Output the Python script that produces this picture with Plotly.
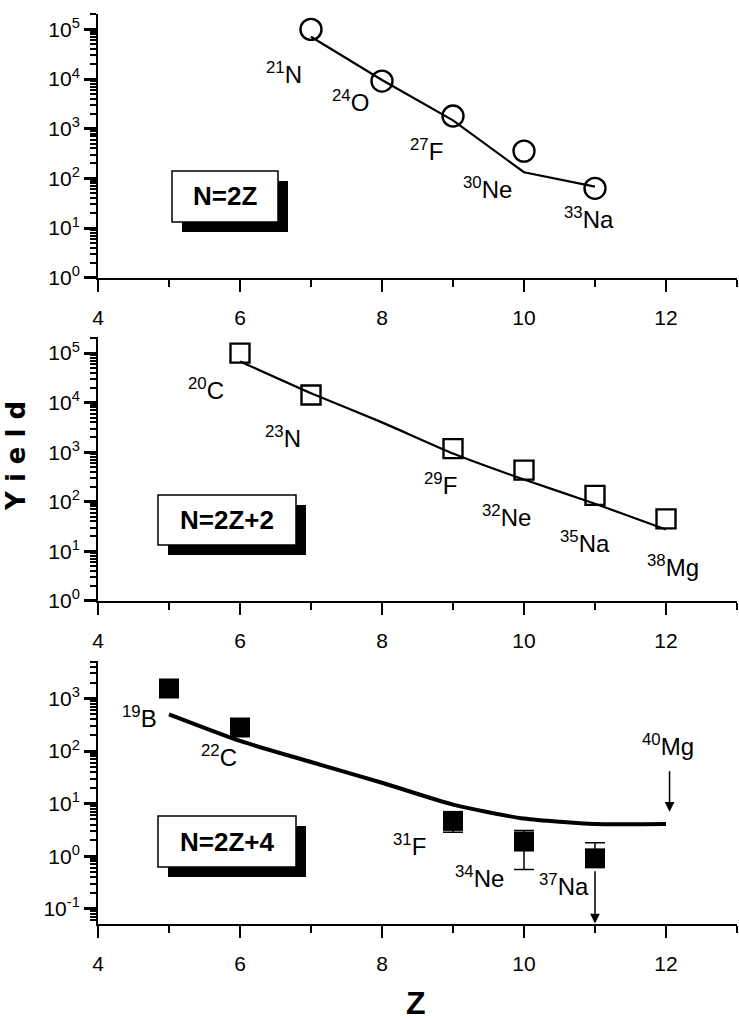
import plotly.graph_objects as go
import math

# ---------------- data ----------------
z_top = [7, 8, 9, 10, 11]
yield_top = [1.0e5, 9.1e3, 1.8e3, 354, 63]
z_top_line = [7, 8, 9, 10, 11]
calc_top = [7.1e4, 9.6e3, 1.47e3, 133, 68]
labels_top = ["<sup>21</sup>N", "<sup>24</sup>O", "<sup>27</sup>F", "<sup>30</sup>Ne", "<sup>33</sup>Na"]
label_top_z = [6.62, 7.55, 8.63, 9.48, 10.92]
label_top_y = [1.35e4, 3.6e3, 380, 65, 16]

z_mid = [6, 7, 9, 10, 11, 12]
yield_mid = [1.0e5, 1.43e4, 1.18e3, 434, 134, 45]
z_mid_line = [6, 7, 8, 9, 10, 11, 12]
calc_mid = [6.8e4, 1.55e4, 4.0e3, 940, 280, 91, 27.5]
labels_mid = ["<sup>20</sup>C", "<sup>23</sup>N", "<sup>29</sup>F", "<sup>32</sup>Ne", "<sup>35</sup>Na", "<sup>38</sup>Mg"]
label_mid_z = [5.52, 6.60, 8.82, 9.75, 10.86, 12.10]
label_mid_y = [1.9e4, 2.05e3, 224, 51, 15, 5.0]

z_bot = [5, 6, 9, 10, 11]
yield_bot = [1550, 280, 4.7, 1.9, 0.91]
err_plus_bot = [None, None, 1.6, 1.2, 0.89]
err_minus_bot = [None, None, 1.85, 1.34, 0.0]
z_bot_line = [5, 6, 7, 8, 9, 10, 11, 12]
calc_bot = [500, 156, 62, 25, 9.6, 5.2, 4.1, 4.1]
labels_bot = ["<sup>19</sup>B", "<sup>22</sup>C", "<sup>31</sup>F", "<sup>34</sup>Ne", "<sup>37</sup>Na", "<sup>40</sup>Mg"]
label_bot_z = [4.58, 5.70, 8.39, 9.37, 10.57, 12.03]
label_bot_y = [437, 81, 1.62, 0.41, 0.28, 129]
limit_z = 11
limit_from = 0.55
mg40_z = 12.05
mg40_from = 44
mg40_to = 7.0

box_texts = ["N=2Z", "N=2Z+2", "N=2Z+4"]
x_ticks = [4, 6, 8, 10, 12]

# ---------------- layout geometry ----------------
W, H = 739, 1020
L, R, T, B = 98, 2, 14, 96
PW, PH = W - L - R, H - T - B


def px_x(px):
    return (px - L) / PW


def px_y(py):
    return (H - B - py) / PH


def clamp(v):
    return min(1.0, max(0.0, v))


doms = [
    [clamp(px_y(277.7)), clamp(px_y(14))],
    [clamp(px_y(600.7)), clamp(px_y(337.3))],
    [clamp(px_y(924.3)), clamp(px_y(660.7))],
]
yranges = [[0, 5.31], [0, 5.32], [-1.29, 3.72]]
yticks = [[0, 1, 2, 3, 4, 5], [0, 1, 2, 3, 4, 5], [-1, 0, 1, 2, 3]]

TICKFONT = dict(family="Liberation Sans, Arial, sans-serif", size=21, color="black")
LABFONT = dict(family="Liberation Sans, Arial, sans-serif", size=24, color="black")

fig = go.Figure()

# top
fig.add_trace(go.Scatter(x=z_top_line, y=calc_top, mode="lines",
                         line=dict(color="black", width=2.2), xaxis="x", yaxis="y",
                         showlegend=False, hoverinfo="skip"))
fig.add_trace(go.Scatter(x=z_top, y=yield_top, mode="markers",
                         marker=dict(symbol="circle-open", size=21, color="black",
                                     line=dict(width=2.4, color="black")),
                         xaxis="x", yaxis="y", showlegend=False))
# middle
fig.add_trace(go.Scatter(x=z_mid_line, y=calc_mid, mode="lines",
                         line=dict(color="black", width=2.2, shape="spline", smoothing=0.5),
                         xaxis="x2", yaxis="y2", showlegend=False, hoverinfo="skip"))
fig.add_trace(go.Scatter(x=z_mid, y=yield_mid, mode="markers",
                         marker=dict(symbol="square-open", size=19, color="black",
                                     line=dict(width=2.4, color="black")),
                         xaxis="x2", yaxis="y2", showlegend=False))
# bottom
fig.add_trace(go.Scatter(x=z_bot_line, y=calc_bot, mode="lines",
                         line=dict(color="black", width=4, shape="spline", smoothing=0.6),
                         xaxis="x3", yaxis="y3", showlegend=False, hoverinfo="skip"))
fig.add_trace(go.Scatter(x=z_bot, y=yield_bot, mode="markers",
                         marker=dict(symbol="square", size=20, color="black"),
                         error_y=dict(type="data", symmetric=False, array=err_plus_bot,
                                      arrayminus=err_minus_bot, color="black",
                                      thickness=1.5, width=10),
                         xaxis="x3", yaxis="y3", showlegend=False))

annotations = []
shapes = []

for i, (xa, ya) in enumerate([("x", "y"), ("x2", "y2"), ("x3", "y3")]):
    key_x = "xaxis" if i == 0 else f"xaxis{i+1}"
    key_y = "yaxis" if i == 0 else f"yaxis{i+1}"
    fig.layout[key_x] = dict(
        domain=[0, 1], anchor=ya, range=[4, 13], tickvals=x_ticks,
        ticktext=[str(v) for v in x_ticks],
        ticks="outside", ticklen=12, tickwidth=2, tickcolor="black",
        ticklabelstandoff=8,
        minor=dict(ticks="outside", ticklen=7, tickwidth=1.5, tickcolor="black", dtick=1, showgrid=False),
        showline=True, linecolor="black", linewidth=2, showgrid=False, zeroline=False,
        tickfont=TICKFONT,
    )
    fig.layout[key_y] = dict(
        domain=doms[i], anchor=xa, type="log", range=yranges[i],
        tickvals=[10 ** e for e in yticks[i]],
        ticktext=[f"10<sup>{e}</sup>" for e in yticks[i]],
        ticks="outside", ticklen=12, tickwidth=2.5, tickcolor="black",
        minor=dict(ticks="outside", ticklen=6, tickwidth=1.5, tickcolor="black", dtick="D1", showgrid=False),
        showline=True, linecolor="black", linewidth=2, showgrid=False, zeroline=False,
        tickfont=TICKFONT,
    )

# isotope labels
for labs, zs, ys, xa, ya in [(labels_top, label_top_z, label_top_y, "x", "y"),
                              (labels_mid, label_mid_z, label_mid_y, "x2", "y2"),
                              (labels_bot, label_bot_z, label_bot_y, "x3", "y3")]:
    for t, zx, yy in zip(labs, zs, ys):
        annotations.append(dict(x=zx, y=math.log10(yy), xref=xa, yref=ya, text=t,
                                xanchor="center", yanchor="middle",
                                showarrow=False, font=LABFONT))

# arrows in bottom panel
annotations.append(dict(x=limit_z, y=yranges[2][0] + 0.01, xref="x3", yref="y3",
                        ax=limit_z, ay=math.log10(limit_from), axref="x3", ayref="y3",
                        text="", showarrow=True, arrowhead=2, arrowsize=1.3,
                        arrowwidth=1.5, arrowcolor="black"))
annotations.append(dict(x=mg40_z, y=math.log10(mg40_to), xref="x3", yref="y3",
                        ax=mg40_z, ay=math.log10(mg40_from), axref="x3", ayref="y3",
                        text="", showarrow=True, arrowhead=2, arrowsize=1.3,
                        arrowwidth=1.5, arrowcolor="black"))

# boxes with drop shadow (pixel geometry)
boxes_px = [(172, 171, 278, 222), (158, 495, 296, 545), (158, 816, 296, 867)]
for (x0, y0, x1, y1), txt in zip(boxes_px, box_texts):
    shapes.append(dict(type="rect", xref="paper", yref="paper",
                       x0=px_x(x0 + 10), x1=px_x(x1 + 10), y0=px_y(y1 + 10), y1=px_y(y0 + 10),
                       fillcolor="black", line=dict(width=0), layer="above"))
    shapes.append(dict(type="rect", xref="paper", yref="paper",
                       x0=px_x(x0), x1=px_x(x1), y0=px_y(y1), y1=px_y(y0),
                       fillcolor="white", line=dict(width=1.5, color="black"), layer="above"))
    annotations.append(dict(x=px_x((x0 + x1) / 2), y=px_y((y0 + y1) / 2), xref="paper", yref="paper",
                            xanchor="center", yanchor="middle",
                            text=f"<b>{txt}</b>", showarrow=False,
                            font=dict(family="Liberation Sans Narrow, Arial Narrow, Liberation Sans, sans-serif",
                                      size=26, color="black")))

# axis titles
annotations.append(dict(x=px_x(16), y=px_y(456), xref="paper", yref="paper",
                        xanchor="center", yanchor="middle",
                        text="<b>Y i e l d</b>", textangle=-90, showarrow=False,
                        font=dict(family="DejaVu Sans, sans-serif", size=26, color="black")))
annotations.append(dict(x=px_x(416), y=px_y(1003), xref="paper", yref="paper",
                        xanchor="center", yanchor="middle",
                        text="<b>Z</b>", showarrow=False,
                        font=dict(family="Liberation Sans, Arial, sans-serif", size=32, color="black")))

fig.update_layout(width=W, height=H, margin=dict(l=L, r=R, t=T, b=B, pad=0),
                  paper_bgcolor="white", plot_bgcolor="white",
                  annotations=annotations, shapes=shapes, showlegend=False)

fig.write_html("out.html")
